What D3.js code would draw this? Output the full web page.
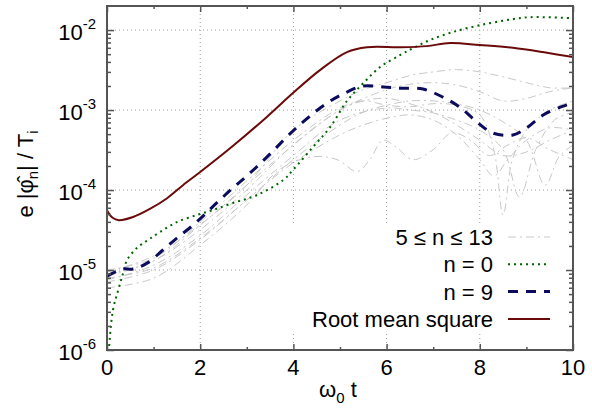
<!DOCTYPE html>
<html>
<head>
<meta charset="utf-8">
<script src="https://cdn.jsdelivr.net/npm/d3@7"></script>
<style>
  body { margin: 0; background: #fff; }
</style>
</head>
<body>
<div id="chart-area"></div>
<script>
// values (time in units of 1/omega_0)
var tRms = [0, 0.05, 0.12, 0.25, 0.56, 0.92, 1.29, 1.63, 2.0, 2.7, 3.43, 3.99, 4.57, 5.15, 5.58, 6.28, 6.86, 7.36, 8.0, 8.71, 9.44, 10];
var rms = [5.6e-5, 5.0e-5, 4.5e-5, 4.2e-5, 4.6e-5, 5.8e-5, 7.9e-5, 1.15e-4, 1.68e-4, 3.55e-4, 8.2e-4, 1.63e-3, 3.16e-3, 5.3e-3, 6.1e-3, 6.1e-3, 6.3e-3, 6.9e-3, 6.5e-3, 6.0e-3, 5.2e-3, 4.6e-3];

var tN0 = [0, 0.04, 0.13, 0.24, 0.34, 0.43, 0.64, 0.88, 1.14, 1.5, 1.93, 2.27, 2.7, 3.22, 3.78, 3.99, 4.42, 4.79, 5.15, 5.5, 5.86, 6.29, 6.57, 6.93, 7.42, 8.0, 8.71, 9.08, 10];
var n0 = [4e-7, 1.0e-6, 3.2e-6, 5.6e-6, 8.9e-6, 1.33e-5, 1.88e-5, 2.37e-5, 2.99e-5, 3.98e-5, 4.87e-5, 5.62e-5, 6.88e-5, 8.66e-5, 1.33e-4, 1.78e-4, 3.45e-4, 6.13e-4, 1.3e-3, 2.17e-3, 3.45e-3, 4.87e-3, 5.96e-3, 7.5e-3, 9.44e-3, 1.15e-2, 1.37e-2, 1.45e-2, 1.41e-2];

var tN9 = [0, 0.34, 0.56, 0.86, 1.2, 1.5, 1.85, 2.15, 2.42, 2.7, 3.0, 3.43, 4.08, 4.72, 5.15, 5.5, 5.94, 6.28, 6.78, 7.21, 7.57, 7.94, 8.28, 8.71, 9.0, 9.36, 9.79, 10];
var n9 = [8.4e-6, 1.03e-5, 1.03e-5, 1.22e-5, 1.78e-5, 2.51e-5, 3.65e-5, 5.31e-5, 7.5e-5, 1.06e-4, 1.5e-4, 2.58e-4, 6.13e-4, 1.22e-3, 1.68e-3, 2.0e-3, 1.94e-3, 1.88e-3, 1.83e-3, 1.45e-3, 1.09e-3, 7.08e-4, 5.16e-4, 4.87e-4, 5.96e-4, 8.66e-4, 1.12e-3, 1.22e-3];

// the grey bundle, 5 <= n <= 13
var grayT = [
  [0, 1, 2, 3, 4, 5, 5.5, 6, 6.5, 7, 7.5, 8, 8.5, 9, 9.5, 10],
  [0, 1, 2, 3, 4, 5, 6, 6.5, 7, 7.5, 8, 8.5, 9, 9.5, 10],
  [0, 1, 2, 3, 4, 5, 5.5, 6, 6.5, 7, 7.5, 8, 8.3, 8.5, 8.7, 9, 9.5, 10],
  [0, 1, 2, 3, 4, 5, 6, 6.5, 7, 7.5, 8, 8.5, 8.85, 9.2, 9.6, 10],
  [0, 1, 2, 3, 4, 5, 5.5, 6, 6.5, 7, 7.5, 8, 8.5, 9, 9.4, 9.7, 10],
  [0, 1, 2, 3, 3.7, 4.4, 4.94, 5.37, 5.64, 5.92, 6.2, 6.57, 7, 7.4, 7.8, 8.2, 8.6, 9, 9.5, 10],
  [0, 1, 2, 3, 4, 5, 5.5, 6, 6.5, 7, 7.5, 8, 8.3, 8.6, 9, 9.5, 10],
  [0, 1, 2, 3, 4, 5, 5.5, 6, 6.5, 7, 7.5, 8, 8.5, 9, 9.5, 10]
];
var grayV = [
  [9.4e-6, 1.5e-5, 3.7e-5, 1.15e-4, 5.6e-4, 1.3e-3, 1.8e-3, 2.2e-3, 2.7e-3, 3.0e-3, 3.2e-3, 3.0e-3, 2.6e-3, 2.2e-3, 1.9e-3, 1.9e-3],
  [8.4e-6, 1.3e-5, 3.2e-5, 1.0e-4, 3.7e-4, 1.0e-3, 1.8e-3, 2.1e-3, 2.2e-3, 2.05e-3, 1.7e-3, 1.3e-3, 1.4e-3, 1.7e-3, 1.9e-3],
  [1.0e-5, 1.4e-5, 4.0e-5, 1.3e-4, 4.2e-4, 1.06e-3, 1.3e-3, 1.15e-3, 1.1e-3, 1.2e-3, 1.15e-3, 8.7e-4, 3.2e-4, 4.9e-5, 2.4e-4, 5.6e-4, 1.0e-3, 1.3e-3],
  [7.5e-6, 1.15e-5, 2.7e-5, 8.7e-5, 2.7e-4, 7.5e-4, 1.06e-3, 1.0e-3, 9.2e-4, 7.5e-4, 5.6e-4, 3.2e-4, 8.2e-5, 3.2e-4, 7.5e-4, 9.4e-4],
  [7.9e-6, 1.06e-5, 2.5e-5, 7.5e-5, 2.4e-4, 6.5e-4, 9.4e-4, 1.15e-3, 1.3e-3, 1.3e-3, 1.2e-3, 1.0e-3, 7.1e-4, 4.2e-4, 1.15e-4, 2.6e-4, 3.65e-4],
  [6.0e-6, 7.9e-6, 2.05e-5, 6.5e-5, 1.8e-4, 2.6e-4, 2.4e-4, 1.7e-4, 2.4e-4, 4.2e-4, 3.45e-4, 2.4e-4, 3.2e-4, 5.2e-4, 4.2e-4, 2.7e-4, 3.65e-4, 4.5e-4, 3.2e-4, 2.4e-4],
  [7.1e-6, 1.0e-5, 2.4e-5, 7.5e-5, 2.2e-4, 4.9e-4, 6.5e-4, 7.9e-4, 8.7e-4, 7.5e-4, 4.9e-4, 2.4e-4, 1.5e-4, 2.4e-4, 4.2e-4, 6.0e-4, 5.6e-4],
  [8.9e-6, 1.3e-5, 3.65e-5, 1.15e-4, 3.65e-4, 1.0e-3, 1.3e-3, 1.4e-3, 1.2e-3, 9.4e-4, 6.5e-4, 4.2e-4, 2.7e-4, 2.99e-4, 4.2e-4, 5.6e-4]
];

var xMajor = [0, 2, 4, 6, 8, 10];
var xMinor = [1, 3, 5, 7, 9];
var yMajor = [1e-6, 1e-5, 1e-4, 1e-3, 1e-2];
var yExp = ['-6', '-5', '-4', '-3', '-2'];
var legendLabels = ['5 \u2264 n \u2264 13', 'n = 0', 'n = 9', 'Root mean square'];

var FONT = '"Liberation Sans", Arial, sans-serif';
var L = 107, R = 573, T = 6, B = 350;

var svg = d3.select('#chart-area').append('svg')
    .attr('width', 592)
    .attr('height', 410)
    .style('font-family', FONT);

var x = d3.scaleLinear().domain([0, 10]).range([L, R]);
var y = d3.scaleLog().domain([1e-6, 0.02]).range([B, T]);

// grid
svg.append('g').selectAll('line')
    .data(xMajor.slice(1, -1))
    .enter().append('line')
        .attr('x1', d => x(d)).attr('x2', d => x(d))
        .attr('y1', T).attr('y2', B)
        .attr('stroke', '#a0a0a0').attr('stroke-dasharray', '1,3');
svg.append('g').selectAll('line')
    .data(yMajor.slice(1))
    .enter().append('line')
        .attr('x1', L).attr('x2', R)
        .attr('y1', d => y(d)).attr('y2', d => y(d))
        .attr('stroke', '#a0a0a0').attr('stroke-dasharray', '1,3');

// opaque key box
svg.append('rect')
    .attr('x', 273).attr('y', 224)
    .attr('width', R - 273).attr('height', 110)
    .attr('fill', '#fff');

svg.append('clipPath').attr('id', 'clip')
    .append('rect').attr('x', L).attr('y', T).attr('width', R - L).attr('height', B - T);

var line = d3.line()
    .x(d => x(d[0]))
    .y(d => y(d[1]))
    .curve(d3.curveCatmullRom.alpha(0.5));

var plot = svg.append('g').attr('clip-path', 'url(#clip)');

var styles = [
    {color: '#c8c8c8', width: 1, dash: '8,4,2,4'},
    {color: '#006400', width: 2, dash: '2,4'},
    {color: '#0c0c5e', width: 3, dash: '10,8'},
    {color: '#6b0a0a', width: 2, dash: null}
];

grayV.forEach((v, i) => {
    plot.append('path')
        .datum(d3.zip(grayT[i], v))
        .attr('d', line)
        .attr('fill', 'none')
        .attr('stroke', styles[0].color)
        .attr('stroke-width', styles[0].width)
        .attr('stroke-dasharray', styles[0].dash);
});

[[tN0, n0], [tN9, n9], [tRms, rms]].forEach((s, i) => {
    var st = styles[i + 1];
    plot.append('path')
        .datum(d3.zip(s[0], s[1]))
        .attr('d', line)
        .attr('fill', 'none')
        .attr('stroke', st.color)
        .attr('stroke-width', st.width)
        .attr('stroke-dasharray', st.dash);
});

// key
var key = svg.append('g');
legendLabels.forEach((lab, i) => {
    var by = 245 + i * 27.3;
    key.append('text')
        .attr('x', 493).attr('y', by)
        .attr('text-anchor', 'end')
        .attr('font-size', 22)
        .text(lab);
    key.append('line')
        .attr('x1', 508).attr('x2', 550)
        .attr('y1', by - 8).attr('y2', by - 8)
        .attr('stroke', styles[i].color)
        .attr('stroke-width', styles[i].width)
        .attr('stroke-dasharray', styles[i].dash);
});

// border
svg.append('rect')
    .attr('x', L).attr('y', T)
    .attr('width', R - L).attr('height', B - T)
    .attr('fill', 'none')
    .attr('stroke', '#555').attr('stroke-width', 2);

// ticks (inward, mirrored)
var yMinor = [];
yMajor.slice(0, 4).forEach(d => d3.range(2, 10).forEach(k => yMinor.push(k * d)));

function tickGroup(axis, vals, len, tr) {
    svg.append('g')
        .attr('transform', tr)
        .call(axis.tickValues(vals).tickSize(len).tickFormat(''))
        .call(g => g.select('.domain').remove())
        .selectAll('line')
            .attr('stroke', '#555')
            .attr('stroke-width', 1.5);
}
tickGroup(d3.axisBottom(x), xMajor, -6, 'translate(0,' + B + ')');
tickGroup(d3.axisBottom(x), xMinor, -3, 'translate(0,' + B + ')');
tickGroup(d3.axisTop(x), xMajor, -6, 'translate(0,' + T + ')');
tickGroup(d3.axisTop(x), xMinor, -3, 'translate(0,' + T + ')');
tickGroup(d3.axisLeft(y), yMajor, -7, 'translate(' + L + ',0)');
tickGroup(d3.axisLeft(y), yMinor, -4, 'translate(' + L + ',0)');
tickGroup(d3.axisRight(y), yMajor, -7, 'translate(' + R + ',0)');
tickGroup(d3.axisRight(y), yMinor, -4, 'translate(' + R + ',0)');

// tick labels
svg.append('g').selectAll('text')
    .data(xMajor)
    .enter().append('text')
        .attr('x', d => x(d))
        .attr('y', 375)
        .attr('text-anchor', 'middle')
        .attr('font-size', 22)
        .text(d => d);

var yl = svg.append('g').selectAll('text')
    .data(yMajor)
    .enter().append('text')
        .attr('x', 96)
        .attr('y', d => y(d) + 10)
        .attr('text-anchor', 'end')
        .attr('font-size', 22);
yl.append('tspan').text('10');
yl.append('tspan').attr('font-size', 15).attr('dy', -11).text((d, i) => yExp[i]);

// axis titles
var xt = svg.append('text')
    .attr('x', 338).attr('y', 397)
    .attr('text-anchor', 'middle')
    .attr('font-size', 22);
xt.append('tspan').text('\u03c9');
xt.append('tspan').attr('font-size', 15).attr('dy', 6).text('0');
xt.append('tspan').attr('dy', -6).text(' t');

var ytl = svg.append('text')
    .attr('transform', 'translate(33,174) rotate(-90)')
    .attr('text-anchor', 'middle')
    .attr('font-size', 22);
ytl.append('tspan').text('e |');
ytl.append('tspan').text('\u03c6\u0302');
ytl.append('tspan').attr('font-size', 15).attr('dy', 5).text('n');
ytl.append('tspan').attr('dy', -5).text('| / T');
ytl.append('tspan').attr('font-size', 15).attr('dy', 5).text('i');
</script>
</body>
</html>
